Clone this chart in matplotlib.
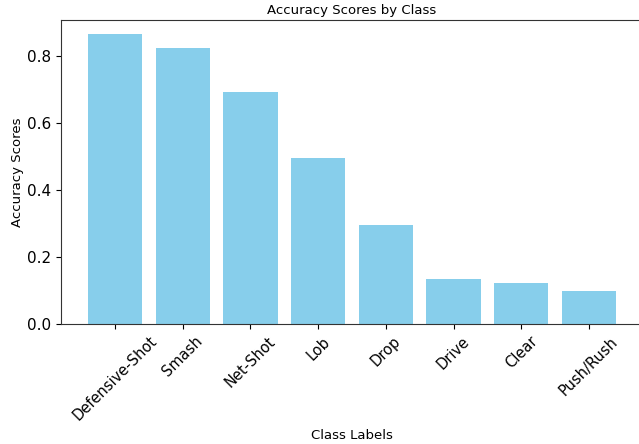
import matplotlib
matplotlib.use("Agg")
import matplotlib.pyplot as plt

# accuracy per shot class
class_labels = ["Defensive-Shot", "Smash", "Net-Shot", "Lob", "Drop", "Drive", "Clear", "Push/Rush"]
accuracy_scores = [0.863, 0.823, 0.692, 0.495, 0.296, 0.134, 0.122, 0.097]

fig = plt.figure(figsize=(6.39, 4.44), dpi=100)
ax = fig.add_axes([61 / 639, 120 / 444, 582 / 639, 304 / 444])

x_pos = list(range(len(class_labels)))
ax.bar(x_pos, accuracy_scores, color="skyblue", width=0.8)
ax.set_xlim(-0.8, 7.8)
ax.set_ylim(0, max(accuracy_scores) * 1.05)
ax.set_xticks(x_pos)
ax.set_xticklabels(class_labels, rotation=45, fontsize=10.5)
ax.tick_params(axis="y", labelsize=11)
ax.set_yticks([0.0, 0.2, 0.4, 0.6, 0.8])

for s in ax.spines.values():
    s.set_color("#333333")

ax.set_xlabel("Class Labels", fontsize=9.5)
ax.set_ylabel("Accuracy Scores", fontsize=9.5, labelpad=2)
ax.set_title("Accuracy Scores by Class", fontsize=9.5, pad=4)

fig.savefig("out.png", dpi=100)
